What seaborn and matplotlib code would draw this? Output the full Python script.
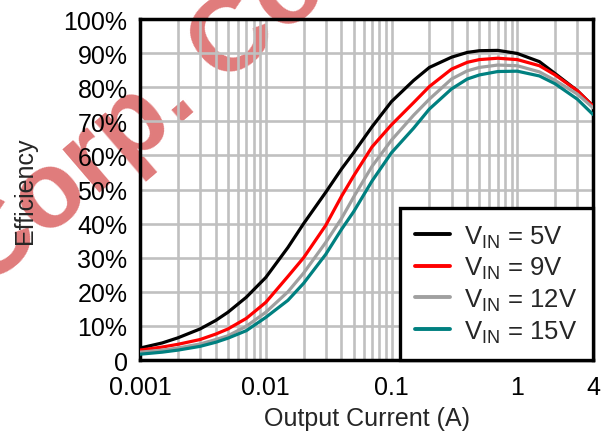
import numpy as np
import pandas as pd
import seaborn as sns
import matplotlib.pyplot as plt
from matplotlib.ticker import FixedLocator, NullFormatter

# datos (corriente en A, eficiencia en %)
corriente = [0.001, 0.0015, 0.002, 0.003, 0.004, 0.005, 0.007, 0.01, 0.015,
             0.02, 0.03, 0.04, 0.05, 0.07, 0.1, 0.15, 0.2, 0.3, 0.4, 0.5,
             0.7, 1, 1.5, 2, 3, 4]
ef_5v = [3.5, 5.0, 6.5, 9.1, 11.6, 14.0, 18.4, 24.2, 33.0,
         40.0, 49.2, 56.0, 60.8, 68.4, 75.8, 82.0, 85.8, 88.8, 90.2, 90.7,
         90.8, 89.9, 87.5, 84.0, 79.0, 74.5]
ef_9v = [2.9, 3.8, 4.6, 6.0, 7.6, 9.1, 12.2, 16.9, 24.5,
         30.0, 39.5, 48.0, 54.0, 62.5, 69.0, 75.5, 80.2, 85.3, 87.3, 88.1,
         88.5, 88.1, 86.3, 83.6, 79.0, 74.5]
ef_12v = [2.3, 2.9, 3.5, 4.7, 6.0, 7.1, 9.9, 14.0, 20.0,
          25.5, 34.5, 41.5, 47.8, 56.8, 64.5, 71.8, 76.5, 82.4, 84.8, 85.8,
          86.5, 86.3, 84.5, 82.0, 78.0, 74.0]
ef_15v = [1.7, 2.3, 2.9, 4.0, 5.2, 6.4, 8.6, 12.5, 17.5,
          22.5, 31.0, 38.3, 43.5, 52.5, 60.8, 68.0, 73.6, 79.5, 82.4, 83.6,
          84.6, 84.7, 83.3, 81.0, 76.5, 72.0]

etiquetas = [r'V$_{\mathregular{IN}}$ = 5V', r'V$_{\mathregular{IN}}$ = 9V',
             r'V$_{\mathregular{IN}}$ = 12V', r'V$_{\mathregular{IN}}$ = 15V']
colores = ['#000000', '#ff0000', '#a0a0a0', '#008080']

x_ticks = [0.001, 0.01, 0.1, 1, 4]
x_labels = ['0.001', '0.01', '0.1', '1', '4']
y_ticks = [0, 10, 20, 30, 40, 50, 60, 70, 80, 90, 100]
y_labels = ['0'] + [f'{v}%' for v in y_ticks[1:]]

df = pd.DataFrame({
    'corriente': corriente * 4,
    'eficiencia': ef_5v + ef_9v + ef_12v + ef_15v,
    'serie': sum([[e] * len(corriente) for e in etiquetas], []),
})

sns.set_style('white')
plt.rcParams['font.family'] = ['Liberation Sans', 'DejaVu Sans']
plt.rcParams['mathtext.fontset'] = 'custom'
plt.rcParams['mathtext.rm'] = 'Liberation Sans'

fig = plt.figure(figsize=(6.08, 4.35), dpi=100)
ax = fig.add_axes([0.2303, 0.1701, 0.745, 0.7839])
ax.patch.set_alpha(0)

# marca de agua detras de todo
fig.text(-0.025, 0.33, 'Corp. Confidential', fontsize=78, fontweight='bold',
         color='#e07b7b', rotation=40.6, rotation_mode='anchor',
         ha='left', va='baseline', zorder=-5)

sns.lineplot(data=df, x='corriente', y='eficiencia', hue='serie',
             palette=colores, hue_order=etiquetas, linewidth=2.3, ax=ax, zorder=3)

ax.set_xscale('log')
ax.set_xlim(0.001, 4)
ax.set_ylim(0, 100)

minors = [m * 10.0 ** e for e in range(-3, 1) for m in range(2, 10)]
minors = [v for v in minors if v < 4]
ax.xaxis.set_major_locator(FixedLocator(x_ticks))
ax.xaxis.set_minor_locator(FixedLocator(minors))
ax.xaxis.set_minor_formatter(NullFormatter())
ax.set_xticklabels(x_labels)
ax.set_yticks(y_ticks)
ax.set_yticklabels(y_labels)

ax.grid(True, which='both', axis='x', color='#c0c0c0', linewidth=1.9, zorder=1)
ax.grid(True, which='major', axis='y', color='#c0c0c0', linewidth=1.9, zorder=1)
ax.set_axisbelow(True)

ax.tick_params(axis='both', which='both', length=0, labelsize=18, colors='black')
ax.tick_params(axis='y', pad=9)
ax.tick_params(axis='x', pad=11)

for s in ax.spines.values():
    s.set_visible(True)
    s.set_color('black')
    s.set_linewidth(2.5)

ax.set_xlabel('Output Current (A)', fontsize=18, labelpad=5)
ax.set_ylabel('Efficiency', fontsize=18, labelpad=19)

leg = ax.legend(loc='lower right', fontsize=18.5, frameon=True, fancybox=False,
                borderaxespad=0, handlelength=1.37, handletextpad=0.55,
                labelspacing=0.2, borderpad=0.6)
leg.get_frame().set_edgecolor('black')
leg.get_frame().set_linewidth(2.4)
leg.get_frame().set_alpha(1)
for ln in leg.get_lines():
    ln.set_linewidth(2.8)

fig.savefig('out.png', dpi=100)
